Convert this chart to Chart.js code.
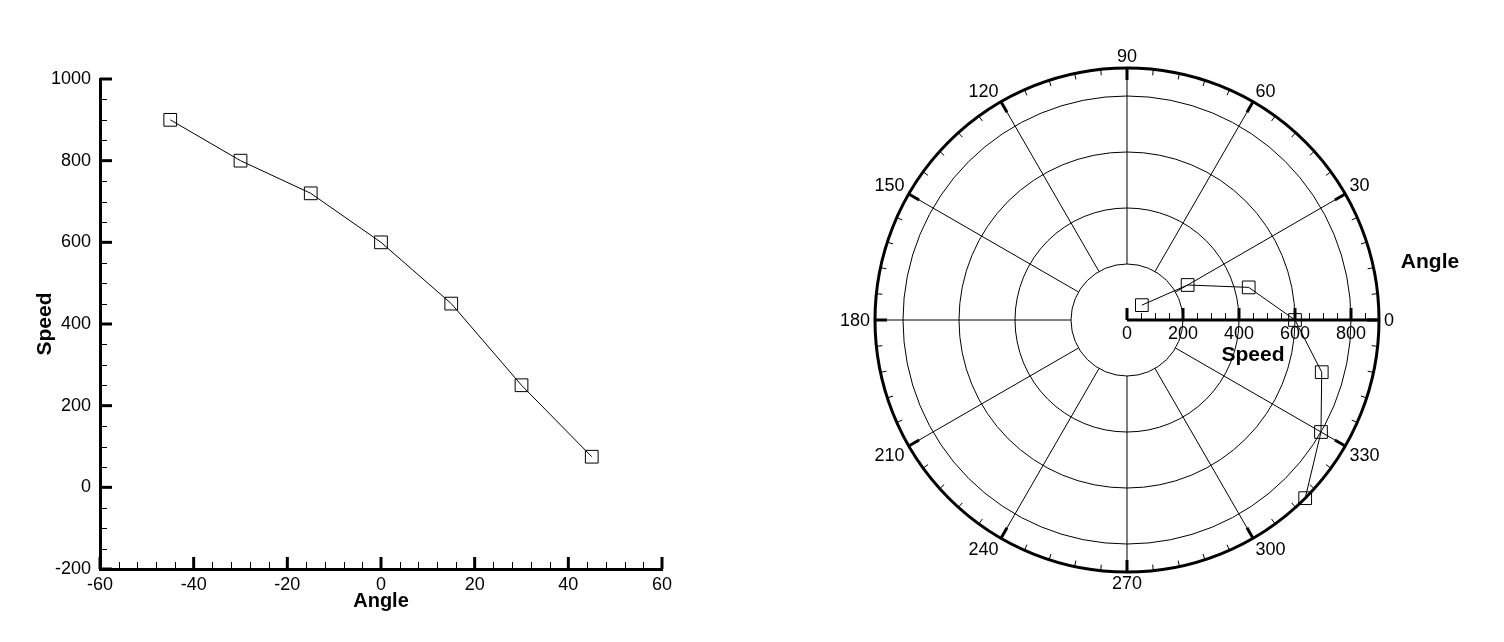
<!DOCTYPE html>
<html>
<head>
<meta charset="utf-8">
<script src="https://cdn.jsdelivr.net/npm/chart.js@4.4.1/dist/chart.umd.min.js"></script>
<style>
  html, body { margin: 0; padding: 0; background: #fff; }
  #wrap { position: relative; width: 1504px; height: 642px; }
  canvas { position: absolute; top: 0; }
  #lineChart { left: 0; }
  #polarChart { left: 752px; }
</style>
</head>
<body>
<div id="wrap">
  <canvas id="lineChart" width="752" height="642"></canvas>
  <canvas id="polarChart" width="752" height="642"></canvas>
</div>
<script>
// Data
const angles = [-45, -30, -15, 0, 15, 30, 45];
const speeds = [900, 800, 720, 600, 450, 250, 75];

// Cartesian axes
const angleTicks = [-60, -40, -20, 0, 20, 40, 60];
const speedTicks = [-200, 0, 200, 400, 600, 800, 1000];

// Polar axes
const polarAngleTicks = [0, 30, 60, 90, 120, 150, 180, 210, 240, 270, 300, 330];
const polarSpeedTicks = [0, 200, 400, 600, 800];
const polarSpeedMax = 900;

const FONT = "'Liberation Sans', Arial, sans-serif";
Chart.defaults.color = '#000';
Chart.defaults.font.family = FONT;

function line(ctx, x1, y1, x2, y2, w) {
  ctx.lineWidth = w;
  ctx.beginPath();
  ctx.moveTo(x1, y1);
  ctx.lineTo(x2, y2);
  ctx.stroke();
}

// Inward major/minor ticks for the xy plot
const inwardTicks = {
  id: 'inwardTicks',
  afterDraw(chart) {
    const { ctx, chartArea: a, scales: { x, y } } = chart;
    ctx.save();
    ctx.strokeStyle = '#000';
    angleTicks.forEach((v, i) => {
      const px = x.getPixelForValue(v);
      line(ctx, px, a.bottom, px, a.bottom - 12, 3);
      if (i < angleTicks.length - 1) {
        const step = (angleTicks[i + 1] - v) / 5;
        for (let k = 1; k < 5; k++) {
          const mx = Math.round(x.getPixelForValue(v + k * step)) + 0.5;
          line(ctx, mx, a.bottom, mx, a.bottom - 7, 1);
        }
      }
    });
    speedTicks.forEach((v, i) => {
      const py = y.getPixelForValue(v);
      line(ctx, a.left, py, a.left + 12, py, 3);
      if (i < speedTicks.length - 1) {
        const step = (speedTicks[i + 1] - v) / 4;
        for (let k = 1; k < 4; k++) {
          const my = Math.round(y.getPixelForValue(v + k * step)) + 0.5;
          line(ctx, a.left, my, a.left + 7, my, 1);
        }
      }
    });
    ctx.restore();
  }
};

new Chart(document.getElementById('lineChart'), {
  type: 'scatter',
  data: {
    datasets: [{
      data: angles.map((a, i) => ({ x: a, y: speeds[i] })),
      showLine: true,
      borderColor: '#000',
      borderWidth: 1,
      tension: 0,
      pointStyle: 'rect',
      pointRadius: 9,
      pointBorderWidth: 1,
      pointBorderColor: '#000',
      pointBackgroundColor: 'rgba(0,0,0,0)'
    }]
  },
  options: {
    responsive: false,
    animation: false,
    events: [],
    layout: { padding: { left: 0, right: 90, top: 79, bottom: 0 } },
    plugins: { legend: { display: false }, tooltip: { enabled: false } },
    scales: {
      x: {
        type: 'linear',
        min: angleTicks[0],
        max: angleTicks[angleTicks.length - 1],
        afterBuildTicks: s => { s.ticks = angleTicks.map(v => ({ value: v })); },
        afterFit: s => { s.height = 73; },
        grid: { display: false, drawTicks: false },
        border: { display: true, width: 3, color: '#000' },
        ticks: { padding: 5, font: { size: 18 }, maxRotation: 0, callback: v => String(v) },
        title: { display: true, text: 'Angle', font: { size: 20, weight: 'bold' }, padding: { top: 0, bottom: 29 } }
      },
      y: {
        type: 'linear',
        min: speedTicks[0],
        max: speedTicks[speedTicks.length - 1],
        afterBuildTicks: s => { s.ticks = speedTicks.map(v => ({ value: v })); },
        afterFit: s => { s.width = 100; },
        grid: { display: false, drawTicks: false },
        border: { display: true, width: 3, color: '#000' },
        ticks: { padding: 9, font: { size: 18 }, callback: v => String(v) },
        title: { display: true, text: 'Speed', font: { size: 21, weight: 'bold' }, padding: { top: 33, bottom: 0 } }
      }
    }
  },
  plugins: [inwardTicks]
});

// Polar frame drawn from the hidden linear scales
const polarGrid = {
  id: 'polarGrid',
  beforeDatasetsDraw(chart) {
    const { ctx, scales: { x, y } } = chart;
    const cx = x.getPixelForValue(0);
    const cy = y.getPixelForValue(0);
    const rp = v => x.getPixelForValue(v) - cx;
    const R = rp(polarSpeedMax);
    const rIn = rp(polarSpeedTicks[1]);
    ctx.save();
    ctx.strokeStyle = '#000';
    ctx.fillStyle = '#000';

    // circles
    ctx.lineWidth = 1;
    polarSpeedTicks.slice(1).forEach(v => {
      ctx.beginPath();
      ctx.arc(cx, cy, rp(v), 0, Math.PI * 2);
      ctx.stroke();
    });
    // spokes
    polarAngleTicks.forEach(t => {
      const c = Math.cos(t * Math.PI / 180), s = Math.sin(t * Math.PI / 180);
      line(ctx, cx + rIn * c, cy - rIn * s, cx + R * c, cy - R * s, 1);
    });
    // outer circle
    ctx.lineWidth = 3;
    ctx.beginPath();
    ctx.arc(cx, cy, R, 0, Math.PI * 2);
    ctx.stroke();
    // angle ticks + labels (anchored just outside, aligned away from centre)
    ctx.font = '18px ' + FONT;
    ctx.textAlign = 'center';
    ctx.textBaseline = 'middle';
    polarAngleTicks.forEach(t => {
      for (let k = 0; k < 5; k++) {
        const ang = (t + k * 6) * Math.PI / 180;
        const c = Math.cos(ang), s = Math.sin(ang);
        const len = k === 0 ? 12 : 6;
        line(ctx, cx + R * c, cy - R * s, cx + (R - len) * c, cy - (R - len) * s, k === 0 ? 3 : 1);
      }
      const c = Math.cos(t * Math.PI / 180), s = Math.sin(t * Math.PI / 180);
      const label = String(t);
      const w = ctx.measureText(label).width;
      const d = R + 5;
      const sx = Math.abs(c) < 0.01 ? 0 : Math.sign(c);
      const sy = Math.abs(s) < 0.01 ? 0 : Math.sign(s);
      ctx.fillText(label, cx + d * c + sx * w / 2, cy - d * s - sy * 6.5 + 1);
    });
    // radial axis
    line(ctx, cx, cy, cx + R, cy, 3);
    polarSpeedTicks.forEach((v, i) => {
      const px = cx + rp(v);
      line(ctx, px, cy, px, cy - 12, 3);
      const next = i < polarSpeedTicks.length - 1 ? polarSpeedTicks[i + 1] : polarSpeedMax;
      const step = (polarSpeedTicks[1] - polarSpeedTicks[0]) / 4;
      for (let m = v + step; m < next - 1e-6; m += step) {
        const mx = Math.round(cx + rp(m)) + 0.5;
        line(ctx, mx, cy, mx, cy - 7, 1);
      }
      ctx.fillText(String(v), px, cy + 14);
    });
    // axis titles
    ctx.font = 'bold 21px ' + FONT;
    ctx.fillText('Speed', cx + R / 2, cy + 35);
    ctx.fillText('Angle', cx + R + 51, cy - 58);
    ctx.restore();
  }
};

new Chart(document.getElementById('polarChart'), {
  type: 'scatter',
  data: {
    datasets: [{
      data: angles.map((a, i) => ({
        x: speeds[i] * Math.cos(a * Math.PI / 180),
        y: speeds[i] * Math.sin(a * Math.PI / 180)
      })),
      showLine: true,
      clip: false,
      borderColor: '#000',
      borderWidth: 1,
      tension: 0,
      pointStyle: 'rect',
      pointRadius: 9,
      pointBorderWidth: 1,
      pointBorderColor: '#000',
      pointBackgroundColor: 'rgba(0,0,0,0)'
    }]
  },
  options: {
    responsive: false,
    animation: false,
    events: [],
    layout: { padding: { left: 123, right: 125, top: 68, bottom: 70 } },
    plugins: { legend: { display: false }, tooltip: { enabled: false } },
    scales: {
      x: { type: 'linear', min: -polarSpeedMax, max: polarSpeedMax, display: false },
      y: { type: 'linear', min: -polarSpeedMax, max: polarSpeedMax, display: false }
    }
  },
  plugins: [polarGrid]
});
</script>
</body>
</html>
